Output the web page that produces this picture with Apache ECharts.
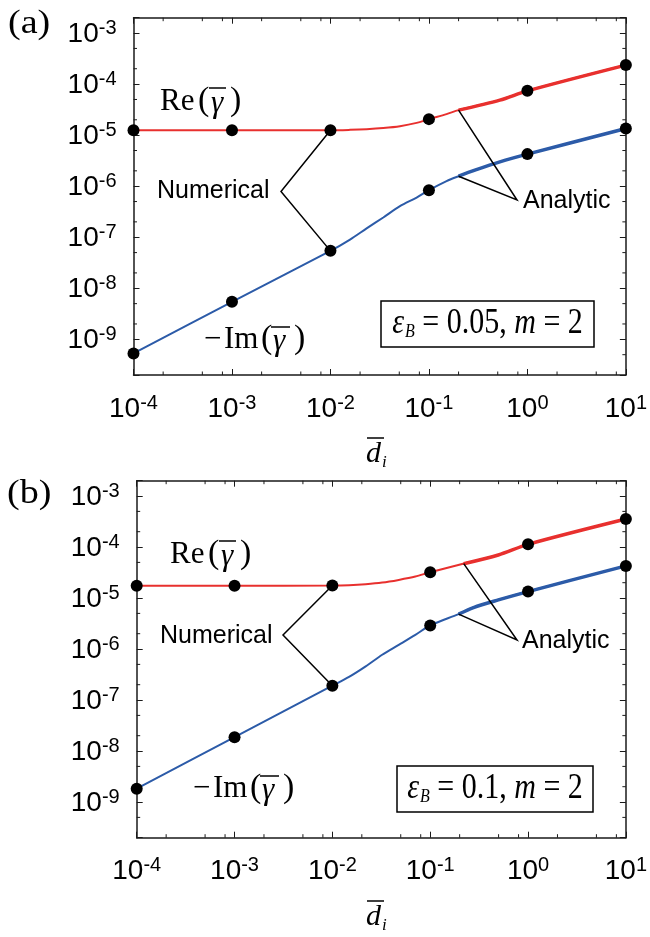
<!DOCTYPE html>
<html><head><meta charset="utf-8">
<script src="https://cdn.jsdelivr.net/npm/echarts@6/dist/echarts.min.js"></script>
<style>html,body{margin:0;padding:0;background:#fff}#c{width:650px;height:937px}</style>
</head><body><div id="c"></div>
<script>
// ---- axis ticks ----
const xMinorTicks = [2e-4,5e-4,8e-4, 2e-3,5e-3,8e-3, 2e-2,5e-2,8e-2, 2e-1,5e-1,8e-1, 2,5,8];
const yMinorTicks = [5e-10, 2e-9,5e-9, 2e-8,5e-8, 2e-7,5e-7, 2e-6,5e-6, 2e-5,5e-5, 2e-4,5e-4];
// ---- numerical points ----
const pointX = [1e-4, 1e-3, 1e-2, 1e-1, 1, 10];
const reA = [1.25e-5, 1.25e-5, 1.245e-5, 2.06e-5, 7.38e-5, 2.36e-4];
const imA = [5.28e-10, 5.42e-9, 5.41e-8, 8.36e-7, 4.25e-6, 1.35e-5];
const reB = [1.75e-5, 1.75e-5, 1.76e-5, 3.21e-5, 1.13e-4, 3.54e-4];
const imB = [1.83e-9, 1.87e-8, 1.91e-7, 2.9e-6, 1.34e-5, 4.27e-5];
// ---- numerical curves, panel (a) ----
const reCurveXA = [1e-4, 1e-3, 1e-2, 0.0158, 0.0233, 0.0344, 0.0508, 0.075, 0.1, 0.151, 0.2, 0.525, 1, 10];
const reCurveA  = [1.25e-5, 1.25e-5, 1.245e-5, 1.27e-5, 1.31e-5, 1.38e-5, 1.5e-5, 1.74e-5, 2.06e-5, 2.58e-5, 3.09e-5, 4.85e-5, 7.38e-5, 2.36e-4];
const imCurveXA = [1e-4, 1e-3, 1e-2, 0.0158, 0.0233, 0.0344, 0.0508, 0.075, 0.1, 0.151, 0.2, 0.293, 0.525, 1, 10];
const imCurveA  = [5.28e-10, 5.42e-9, 5.41e-8, 9.0e-8, 1.49e-7, 2.44e-7, 4.06e-7, 6.0e-7, 8.36e-7, 1.26e-6, 1.57e-6, 2.06e-6, 3.0e-6, 4.25e-6, 1.35e-5];
// ---- numerical curves, panel (b) ----
const reCurveXB = [1e-4, 1e-3, 1e-2, 0.0148, 0.0219, 0.0323, 0.0477, 0.0705, 0.1, 0.227, 0.497, 1, 10];
const reCurveB  = [1.75e-5, 1.75e-5, 1.76e-5, 1.79e-5, 1.87e-5, 2.01e-5, 2.27e-5, 2.64e-5, 3.21e-5, 4.82e-5, 7.0e-5, 1.13e-4, 3.54e-4];
const imCurveXB = [1e-4, 1e-3, 1e-2, 0.0148, 0.0219, 0.0323, 0.0477, 0.0705, 0.1, 0.195, 0.277, 0.497, 1, 10];
const imCurveB  = [1.83e-9, 1.87e-8, 1.91e-7, 2.84e-7, 4.57e-7, 7.74e-7, 1.21e-6, 1.9e-6, 2.9e-6, 4.84e-6, 6.52e-6, 9.2e-6, 1.34e-5, 4.27e-5];
// ---- analytic curves ----
const reAnaXA = [0.2, 0.525, 1, 10];
const reAnaA  = [3.09e-5, 4.85e-5, 7.38e-5, 2.36e-4];
const imAnaXA = [0.2, 0.293, 0.525, 1, 10];
const imAnaA  = [1.57e-6, 2.06e-6, 3.0e-6, 4.25e-6, 1.35e-5];
const reAnaXB = [0.22, 0.497, 1, 10];
const reAnaB  = [4.72e-5, 7.0e-5, 1.13e-4, 3.54e-4];
const imAnaXB = [0.195, 0.277, 0.497, 1, 10];
const imAnaB  = [4.84e-6, 6.52e-6, 9.2e-6, 1.34e-5, 4.27e-5];
const panelTags = ['(a)', '(b)'];
const boxTexts = ['0.05', '0.1'];

const X_MIN = 1e-4, X_MAX = 10, Y_MIN = 2e-10, Y_MAX = 2e-3;
const RED = '#e8302e', BLUE = '#2c5ba8', AX = '#1a1a1a';
const zip = (xs, ys) => xs.map((x, i) => [x, ys[i]]);

const chart = echarts.init(document.getElementById('c'));
const grids = [
  {left: 133.5, top: 17.7, width: 492.5, height: 357.3},
  {left: 136.7, top: 480.7, width: 491.6, height: 357}
];
function fmt(v) {
  const e = Math.log10(v), r = Math.round(e);
  if (Math.abs(e - r) > 1e-6) return '';
  return '{b|10}{s|' + r + '}';
}
const rich = {
  b: {fontFamily: 'Liberation Sans', fontSize: 28, color: '#000', lineHeight: 30, verticalAlign: 'bottom'},
  s: {fontFamily: 'Liberation Sans', fontSize: 20, color: '#000', lineHeight: 20, verticalAlign: 'top', padding: [0, 0, 18, 0]}
};
const xAxes = [], yAxes = [];
grids.forEach((g, gi) => {
  ['bottom', 'top'].forEach((pos, k) => xAxes.push({
    type: 'log', logBase: 10, gridIndex: gi, position: pos, min: X_MIN, max: X_MAX,
    axisLine: {show: true, lineStyle: {color: AX, width: 1.5}},
    axisTick: {show: true, inside: true, length: 6, lineStyle: {color: AX, width: 1}},
    axisLabel: {show: k === 0, formatter: fmt, rich: rich, margin: 18},
    splitLine: {show: false}, minorTick: {show: false}
  }));
  ['left', 'right'].forEach((pos, k) => yAxes.push({
    type: 'log', logBase: 10, gridIndex: gi, position: pos, min: Y_MIN, max: Y_MAX,
    axisLine: {show: true, lineStyle: {color: AX, width: 1.5}},
    axisTick: {show: true, inside: true, length: 6, lineStyle: {color: AX, width: 1}},
    axisLabel: {show: k === 0, formatter: fmt, rich: rich, margin: 17, align: 'right'},
    splitLine: {show: false}, minorTick: {show: false}
  }));
});

function minorSeries(gi) {
  const L = 3.5;
  const st = {stroke: AX, lineWidth: 1};
  return [{
    type: 'custom', xAxisIndex: gi * 2, yAxisIndex: gi * 2, clip: false, silent: true, z: 6,
    data: yMinorTicks.map(v => [X_MIN, v]),
    renderItem: (params, api) => {
      const p = api.coord([api.value(0), api.value(1)]);
      const cs = params.coordSys;
      return {type: 'group', children: [
        {type: 'line', shape: {x1: cs.x, y1: p[1], x2: cs.x + L, y2: p[1]}, style: st},
        {type: 'line', shape: {x1: cs.x + cs.width, y1: p[1], x2: cs.x + cs.width - L, y2: p[1]}, style: st}
      ]};
    }
  }, {
    type: 'custom', xAxisIndex: gi * 2, yAxisIndex: gi * 2, clip: false, silent: true, z: 6,
    data: xMinorTicks.map(v => [v, Y_MIN]),
    renderItem: (params, api) => {
      const p = api.coord([api.value(0), api.value(1)]);
      const cs = params.coordSys;
      return {type: 'group', children: [
        {type: 'line', shape: {x1: p[0], y1: cs.y + cs.height, x2: p[0], y2: cs.y + cs.height - L}, style: st},
        {type: 'line', shape: {x1: p[0], y1: cs.y, x2: p[0], y2: cs.y + L}, style: st}
      ]};
    }
  }];
}

function lineS(gi, data, color, w, z) {
  return {type: 'line', xAxisIndex: gi * 2, yAxisIndex: gi * 2, data: data, showSymbol: false,
    smooth: 0.3, lineStyle: {color: color, width: w}, z: z, silent: true};
}
function dotS(gi, data) {
  return {type: 'scatter', xAxisIndex: gi * 2, yAxisIndex: gi * 2, data: data, symbol: 'circle',
    symbolSize: 12, itemStyle: {color: '#000', opacity: 1}, z: 8, silent: true};
}
const panels = [
  {reC: zip(reCurveXA, reCurveA), imC: zip(imCurveXA, imCurveA), reN: zip(reAnaXA, reAnaA), imN: zip(imAnaXA, imAnaA), reP: zip(pointX, reA), imP: zip(pointX, imA)},
  {reC: zip(reCurveXB, reCurveB), imC: zip(imCurveXB, imCurveB), reN: zip(reAnaXB, reAnaB), imN: zip(imAnaXB, imAnaB), reP: zip(pointX, reB), imP: zip(pointX, imB)}
];
let series = [];
panels.forEach((p, gi) => {
  series.push(lineS(gi, p.reC, RED, 2, 3), lineS(gi, p.imC, BLUE, 2, 3),
    lineS(gi, p.reN, RED, 3.5, 3), lineS(gi, p.imN, BLUE, 3.5, 3),
    dotS(gi, p.reP), dotS(gi, p.imP));
  series = series.concat(minorSeries(gi));
});

chart.setOption({
  animation: false,
  grid: grids.map(g => Object.assign({containLabel: false}, g)),
  xAxis: xAxes, yAxis: yAxes, series: series
});

// ---- annotations (layout positions) ----
const layout = [
  {tag: [8, 24], re: [160, 101], num: [157, 191.5], numV: [281, 191.5], ana: [523, 201], anaV: [517, 200],
   im: [204, 339], box: [381, 301, 213, 46], dname: [366, 454]},
  {tag: [7, 494], re: [170, 554], num: [160, 636], numV: [283, 635], ana: [522, 641], anaV: [517, 640],
   im: [193, 788], box: [397, 766, 196, 46], dname: [366, 917]}
];
const serif = 'Liberation Serif';
const gfx = [];
function txt(x, y, s, size, extra) {
  return {type: 'text', x: x, y: y, z: 6, style: Object.assign({text: s, fontFamily: serif, fontSize: size, fill: '#000', verticalAlign: 'middle'}, extra || {})};
}
function bar(x1, x2, y) {
  return {type: 'line', z: 6, shape: {x1: x1, y1: y, x2: x2, y2: y}, style: {stroke: '#000', lineWidth: 1.5}};
}
layout.forEach((L, gi) => {
  const px = (pt) => chart.convertToPixel({gridIndex: gi}, pt);
  const p = panels[gi];
  gfx.push(Object.assign(txt(L.tag[0], L.tag[1], panelTags[gi], 34), {scaleX: 1.12}));
  // Re(gamma-bar)
  const [rx, ry] = L.re;
  gfx.push(txt(rx, ry + 1, 'Re', 31));
  gfx.push(txt(rx + 38, ry, '(', 34));
  gfx.push(txt(rx + 51, ry + 3, 'γ', 31, {fontStyle: 'italic'}));
  gfx.push(txt(rx + 70, ry, ')', 34));
  gfx.push(bar(rx + 49, rx + 66, ry - 13));
  // -Im(gamma-bar)
  const [ix, iy] = L.im;
  gfx.push(txt(ix, iy + 1, '−', 31));
  gfx.push(txt(ix + 20, iy + 1, 'Im', 31));
  gfx.push(txt(ix + 57, iy, '(', 34));
  gfx.push(txt(ix + 69, iy + 3, 'γ', 31, {fontStyle: 'italic'}));
  gfx.push(txt(ix + 90, iy, ')', 34));
  gfx.push(bar(ix + 67, ix + 86, iy - 12));
  // Numerical
  gfx.push(txt(L.num[0], L.num[1], 'Numerical', 25, {fontFamily: 'Liberation Sans'}));
  gfx.push({type: 'polyline', z: 4, shape: {points: [px(p.reP[2]), L.numV, px(p.imP[2])]}, style: {stroke: '#000', lineWidth: 1.5, fill: null}});
  // Analytic
  gfx.push(txt(L.ana[0], L.ana[1], 'Analytic', 25, {fontFamily: 'Liberation Sans'}));
  gfx.push({type: 'polyline', z: 4, shape: {points: [px(p.reN[0]), L.anaV, px(p.imN[0])]}, style: {stroke: '#000', lineWidth: 1.5, fill: null}});
  // parameter box
  const b = L.box;
  gfx.push({type: 'rect', shape: {x: b[0], y: b[1], width: b[2], height: b[3]}, style: {stroke: '#000', lineWidth: 1.5, fill: '#fff'}, z: 5});
  gfx.push({type: 'text', z: 6, x: b[0] + b[2] / 2, y: b[1] + b[3] / 2, scaleY: 1.2,
    style: {text: '{e|ε}{sub|B}{t| = ' + boxTexts[gi] + ', }{m|m}{t| = 2}', align: 'center', verticalAlign: 'middle',
      rich: {e: {fontFamily: serif, fontStyle: 'italic', fontSize: 30, fill: '#000'},
             sub: {fontFamily: serif, fontStyle: 'italic', fontSize: 16, fill: '#000', padding: [14, 0, 0, 1]},
             t: {fontFamily: serif, fontSize: 30, fill: '#000'},
             m: {fontFamily: serif, fontStyle: 'italic', fontSize: 30, fill: '#000'}}}});
  // axis name d-bar_i
  const d = L.dname;
  gfx.push(txt(d[0], d[1], 'd', 30, {fontStyle: 'italic'}));
  gfx.push(txt(d[0] + 16, d[1] + 9, 'i', 17, {fontStyle: 'italic'}));
  gfx.push(bar(d[0] + 1, d[0] + 18, d[1] - 16));
});
chart.setOption({graphic: gfx});
</script>
</body></html>
